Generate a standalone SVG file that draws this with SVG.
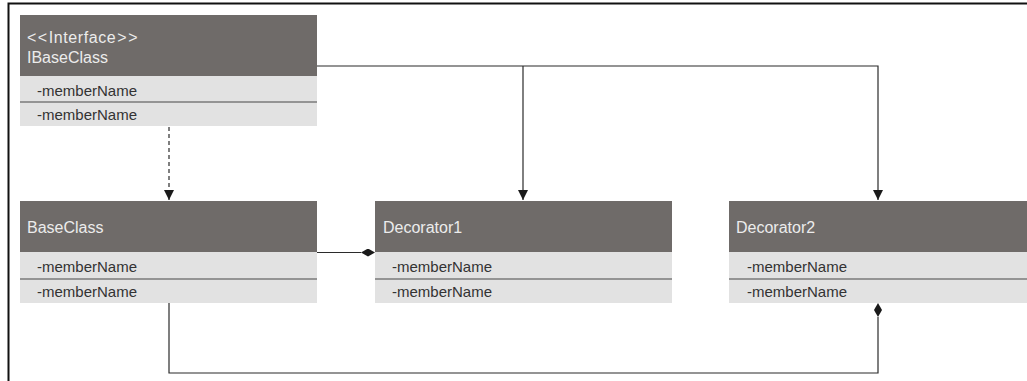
<svg xmlns="http://www.w3.org/2000/svg" width="1027" height="381" viewBox="0 0 1027 381">
<defs>
<style>
.hdr{fill:#6f6b69}
.row{fill:#e2e2e2}
.div{stroke:#7a7a7a;stroke-width:1.5}
.title{font-family:"Liberation Sans",Arial,sans-serif;font-size:16px;fill:#ececec}
.mem{font-family:"Liberation Sans",Arial,sans-serif;font-size:15px;fill:#333333}
.ln{fill:none;stroke:#2b2b2b;stroke-width:1.2}
</style>
<marker id="arr" viewBox="0 0 10 10" refX="10" refY="5" markerWidth="10" markerHeight="10" markerUnits="userSpaceOnUse" orient="auto">
<path d="M0,0 L10,5 L0,10 Z" fill="#1a1a1a"/>
</marker>
<marker id="dia" viewBox="0 0 14 8" refX="0" refY="4" markerWidth="14" markerHeight="8" markerUnits="userSpaceOnUse" orient="auto">
<path d="M0,4 L7,0 L14,4 L7,8 Z" fill="#1a1a1a"/>
</marker>
</defs>
<rect width="1027" height="381" fill="#ffffff"/>
<path d="M8.5,381 V3.5 H1027" fill="none" stroke="#111" stroke-width="2"/>

<g id="connectors">
<path class="ln" d="M169,127 V200" stroke-dasharray="4,3" marker-end="url(#arr)"/>
<path class="ln" d="M317,66 H878 V200" marker-end="url(#arr)"/>
<path class="ln" d="M523,66 V200" marker-end="url(#arr)"/>
<path class="ln" d="M317,252.5 H361" marker-end="url(#dia)"/>
<path class="ln" d="M169,303 V373 H878 V317" marker-end="url(#dia)"/>
</g>

<g id="IBaseClass">
<rect class="hdr" x="20" y="15" width="297" height="61"/>
<rect class="row" x="20" y="76" width="297" height="50"/>
<line class="div" x1="20" y1="102" x2="317" y2="102"/>
<text class="title" x="27" y="43"><tspan letter-spacing="1.5">&lt;&lt;</tspan><tspan letter-spacing="0.6">Interface</tspan><tspan dx="1" letter-spacing="1.5">&gt;&gt;</tspan></text>
<text class="title" x="27" y="63">IBaseClass</text>
<text class="mem" x="37" y="96">-memberName</text>
<text class="mem" x="37" y="120">-memberName</text>
</g>

<g id="BaseClass">
<rect class="hdr" x="20" y="201" width="297" height="51"/>
<rect class="row" x="20" y="252" width="297" height="51"/>
<line class="div" x1="20" y1="279" x2="317" y2="279"/>
<text class="title" x="27" y="233">BaseClass</text>
<text class="mem" x="37" y="272">-memberName</text>
<text class="mem" x="37" y="297">-memberName</text>
</g>

<g id="Decorator1">
<rect class="hdr" x="375" y="201" width="297" height="51"/>
<rect class="row" x="375" y="252" width="297" height="51"/>
<line class="div" x1="375" y1="279" x2="672" y2="279"/>
<text class="title" x="383" y="233">Decorator1</text>
<text class="mem" x="392" y="272">-memberName</text>
<text class="mem" x="392" y="297">-memberName</text>
</g>

<g id="Decorator2">
<rect class="hdr" x="729" y="201" width="298" height="51"/>
<rect class="row" x="729" y="252" width="298" height="51"/>
<line class="div" x1="729" y1="279" x2="1027" y2="279"/>
<text class="title" x="736" y="233">Decorator2</text>
<text class="mem" x="747" y="272">-memberName</text>
<text class="mem" x="747" y="297">-memberName</text>
</g>
</svg>
